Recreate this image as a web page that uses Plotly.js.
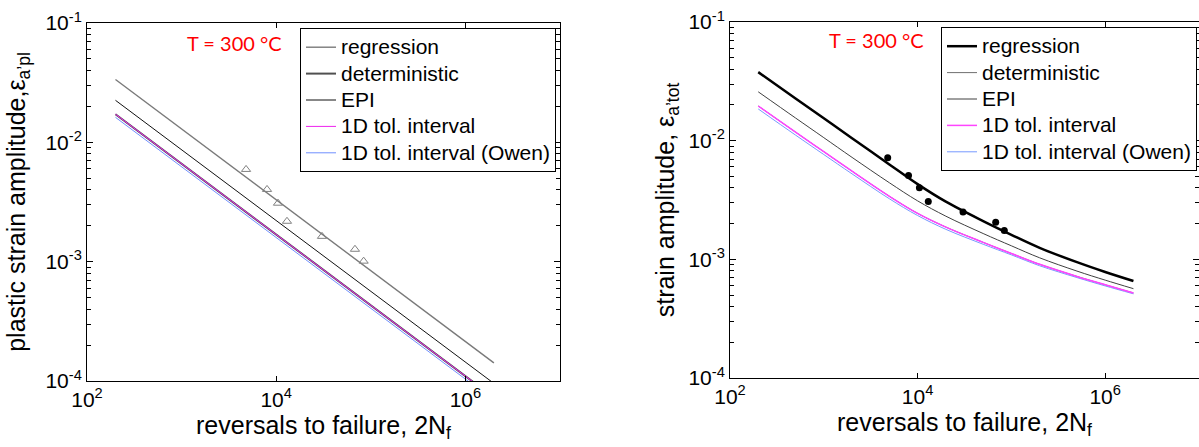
<!DOCTYPE html>
<html><head><meta charset="utf-8">
<script src="https://cdn.plot.ly/plotly-3.0.1.min.js"></script>
<style>html,body{margin:0;padding:0;overflow:hidden;background:#fff}#chart{width:1199px;height:447px}</style>
</head><body><div id="chart"></div>
<script>
// ---------- data ----------
// left panel: plastic strain amplitude (straight lines in log-log)
const cyclesLine = [200, 2000000];
const plRegression = [0.0336, 0.000142];
const plEPI = [0.0225, 0.0000955];
const plTol = [0.0172, 0.0000728];
const plOwen = [0.0162, 0.0000688];
const cyclesTest = [4800, 8000, 10450, 13000, 30500, 68000, 84000];
const plTest = [0.00593, 0.00403, 0.00309, 0.00218, 0.00163, 0.00127, 0.00101];

// right panel: total strain amplitude
const cyclesCurve = [200, 500, 1000, 2000, 5000, 10000, 20000, 50000, 100000, 200000, 500000, 1000000, 2000000];
const totRegression = [0.0378, 0.0227, 0.01545, 0.0105, 0.00631, 0.0043, 0.00306, 0.0021, 0.00161, 0.00125, 0.000946, 0.000782, 0.000656];
const totEPI = [0.0258, 0.01552, 0.0106, 0.00723, 0.00442, 0.00311, 0.00231, 0.00165, 0.0013, 0.00103, 0.000796, 0.000668, 0.000566];
const totTol = [0.0196, 0.0118, 0.00807, 0.00553, 0.0034, 0.00244, 0.00187, 0.00139, 0.00112, 0.000908, 0.000718, 0.00061, 0.000521];
const totOwen = [0.0185, 0.01114, 0.00764, 0.00525, 0.00324, 0.00234, 0.00179, 0.00134, 0.00109, 0.000883, 0.000702, 0.000597, 0.000512];
const totTest = [0.00719, 0.00509, 0.00401, 0.00307, 0.00251, 0.00205, 0.00175];

const seriesNames = ['regression', 'deterministic', 'EPI', '1D tol. interval', '1D tol. interval (Owen)'];
const xTickVals = [1e2, 1e4, 1e6];
const xTickText = ['10<sup>2</sup>', '10<sup>4</sup>', '10<sup>6</sup>'];
const yTickVals = [1e-4, 1e-3, 1e-2, 1e-1];
const yTickText = ['10<sup>-4</sup>', '10<sup>-3</sup>', '10<sup>-2</sup>', '10<sup>-1</sup>'];
const tempLabel = 'T = 300 °C';
const xTitle = 'reversals to failure, 2N<sub>f</sub>';
const yTitleLeft = 'plastic strain amplitude,ε<sub>a’pl</sub>';
const yTitleRight = 'strain amplitude, ε<sub>a’tot</sub>';

// ---------- figure ----------
const W = 1199, H = 447;
const yMinor = [];
for (let d = -4; d < -1; d++) for (let k = 2; k <= 9; k++) yMinor.push(k * Math.pow(10, d));

const AF = 'Liberation Sans, Arial, sans-serif';
const legendName = n => '<span style="font-size:21px">' + n + '</span>';
function line(x, y, idx, color, width, legend, xa, ya, shape) {
  return {x, y, name: legendName(seriesNames[idx]), type: 'scatter', mode: 'lines',
    line: {color, width, shape: shape || 'linear', smoothing: 1},
    legendrank: idx + 1, legend, xaxis: xa, yaxis: ya};
}
const traces = [
  // left panel
  line(cyclesLine, plTol, 1, '#505050', 2, 'legend', 'x', 'y'),
  line(cyclesLine, plRegression, 0, '#7a7a7a', 1.4, 'legend', 'x', 'y'),
  line(cyclesLine, plEPI, 2, '#111111', 1, 'legend', 'x', 'y'),
  line(cyclesLine, plOwen, 4, '#6f8fff', 1, 'legend', 'x', 'y'),
  line(cyclesLine, plTol, 3, '#ee22ee', 1, 'legend', 'x', 'y'),
  {x: cyclesTest, y: plTest, type: 'scatter', mode: 'markers', showlegend: false,
   marker: {symbol: 'triangle-up-open', size: 8, color: '#808080', line: {width: 1, color: '#808080'}},
   xaxis: 'x', yaxis: 'y'},
  // right panel
  line(cyclesCurve, totTol, 1, '#707070', 1, 'legend2', 'x2', 'y2', 'spline'),
  line(cyclesCurve, totRegression, 0, '#000000', 2.5, 'legend2', 'x2', 'y2', 'spline'),
  line(cyclesCurve, totEPI, 2, '#404040', 1, 'legend2', 'x2', 'y2', 'spline'),
  line(cyclesCurve, totOwen, 4, '#7799ff', 1, 'legend2', 'x2', 'y2', 'spline'),
  line(cyclesCurve, totTol, 3, '#ff44ff', 1.5, 'legend2', 'x2', 'y2', 'spline'),
  {x: cyclesTest, y: totTest, type: 'scatter', mode: 'markers', showlegend: false,
   marker: {symbol: 'circle', size: 7, color: '#000'}, xaxis: 'x2', yaxis: 'y2'}
];

function xAxis(x0, x1, anchor) {
  return {type: 'log', domain: [x0 / W, x1 / W], anchor, range: [2, 7],
    tickmode: 'array', tickvals: xTickVals, ticktext: xTickText,
    ticks: 'inside', ticklen: 5, tickcolor: '#000', tickwidth: 1,
    showline: true, linecolor: '#000', linewidth: 1, mirror: 'ticks',
    showgrid: false, zeroline: false,
    tickfont: {family: AF, size: 21, color: '#000'},
    title: {text: xTitle, font: {family: AF, size: 25, color: '#000'}, standoff: 6}};
}
function yAxis(top, bottom, anchor, title, standoff) {
  return {type: 'log', domain: [1 - bottom / H, 1 - top / H], anchor, range: [-4, -1],
    tickmode: 'array', tickvals: yTickVals, ticktext: yTickText,
    ticks: 'inside', ticklen: 6, tickcolor: '#000', tickwidth: 1,
    minor: {tickvals: yMinor, ticks: 'inside', ticklen: 4, tickcolor: '#000', showgrid: false},
    showline: true, linecolor: '#000', linewidth: 1, mirror: 'ticks',
    showgrid: false, zeroline: false,
    tickfont: {family: AF, size: 21, color: '#000'},
    title: {text: title, font: {family: AF, size: 25, color: '#000'}, standoff}};
}
const legendBase = {xanchor: 'left', yanchor: 'top', bgcolor: '#fff', bordercolor: '#000', borderwidth: 1,
  font: {family: AF, size: 18, color: '#000'}, tracegroupgap: 0, itemwidth: 30};

const layout = {
  width: W, height: H, margin: {l: 0, r: 0, t: 0, b: 0}, paper_bgcolor: '#fff', plot_bgcolor: '#fff',
  showlegend: true,
  xaxis: xAxis(87, 560, 'y'),
  yaxis: yAxis(23, 381, 'x', yTitleLeft, 12),
  xaxis2: xAxis(730, 1199, 'y2'),
  yaxis2: yAxis(22, 378, 'x2', yTitleRight, 6),
  legend: Object.assign({x: 300 / W, y: 1 - 28 / H}, legendBase),
  legend2: Object.assign({x: 941 / W, y: 1 - 27 / H}, legendBase),
  annotations: [
    {text: tempLabel, xref: 'paper', yref: 'paper', x: 234 / W, y: 1 - 43 / H, xanchor: 'center', yanchor: 'middle',
     showarrow: false, font: {family: 'Lato, sans-serif', size: 20, color: '#ff0000'}},
    {text: tempLabel, xref: 'paper', yref: 'paper', x: 876 / W, y: 1 - 40 / H, xanchor: 'center', yanchor: 'middle',
     showarrow: false, font: {family: 'Lato, sans-serif', size: 20, color: '#ff0000'}}
  ]
};
Plotly.newPlot('chart', traces, layout, {displayModeBar: false, staticPlot: true});
</script></body></html>
